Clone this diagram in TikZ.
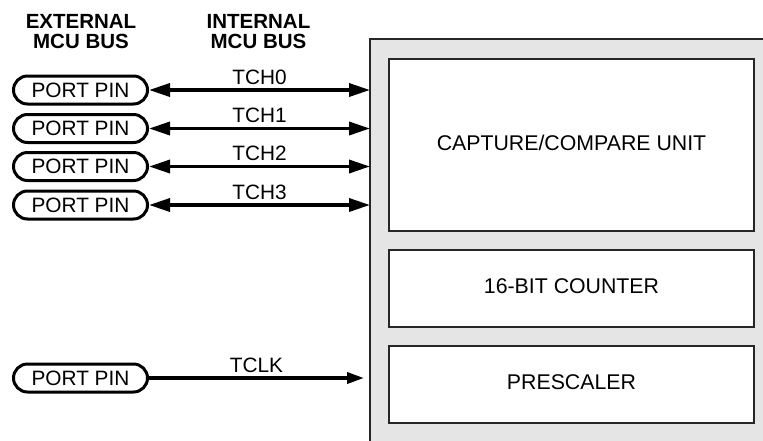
\documentclass[tikz,border=0pt]{standalone}
\usepackage{fontspec}
\setmainfont{Liberation Sans}
\usetikzlibrary{arrows.meta}
\begin{document}
\begin{tikzpicture}[x=1pt,y=-1pt,
  pinbox/.style={draw, line width=3pt, rounded corners=14pt, minimum width=134pt,
    minimum height=28pt, inner sep=0pt, fill=white, font=\fontsize{20.8}{20.8}\selectfont},
  unitbox/.style={draw=black!85, line width=1.1pt, fill=white, minimum width=365pt,
    inner sep=0pt, text height=15pt, text depth=5pt, font=\fontsize{21.3}{21.3}\selectfont},
  hdr/.style={align=center, inner sep=0pt, font=\fontsize{20.5}{19.5}\selectfont\bfseries},
  bus/.style={line width=3.5pt, {Triangle[length=21pt,width=13pt]}-{Triangle[length=21pt,width=13pt]}},
  inbus/.style={line width=3.5pt, -{Triangle[length=17pt,width=11pt]}},
  lbl/.style={midway, anchor=base, yshift=6pt, inner sep=0pt, font=\fontsize{20.8}{20.8}\selectfont}]
\useasboundingbox (0,0) rectangle (763,440);

% timer block
\node[draw=black!85, line width=1.1pt, fill=black!10, anchor=north west,
  minimum width=420pt, minimum height=430pt, inner sep=0pt, outer sep=0pt] (timer) at (370,39) {};
\node[unitbox, minimum height=172pt] (cap) at (571.5,145) {CAPTURE/COMPARE UNIT};
\node[unitbox, minimum height=77pt] (cnt) at (571.5,288.5) {16-BIT COUNTER};
\node[unitbox, minimum height=77pt] (pre) at (571.5,384.5) {PRESCALER};

% headers
\node[hdr] (ext) at (81,31.4) {EXTERNAL\\MCU BUS};
\node[hdr] (int) at (258.5,31.4) {INTERNAL\\MCU BUS};

% port pins
\node[pinbox] (p0) at (80.5,90) {PORT PIN};
\node[pinbox] (p1) at (80.5,128.5) {PORT PIN};
\node[pinbox] (p2) at (80.5,166.5) {PORT PIN};
\node[pinbox] (p3) at (80.5,205) {PORT PIN};
\node[pinbox] (p4) at (80.5,378) {PORT PIN};

% connectors
\draw[bus] (p0.east) -- (p0.east -| timer.west) node[lbl] {TCH0};
\draw[bus] (p1.east) -- (p1.east -| timer.west) node[lbl] {TCH1};
\draw[bus] (p2.east) -- (p2.east -| timer.west) node[lbl] {TCH2};
\draw[bus] (p3.east) -- (p3.east -| timer.west) node[lbl] {TCH3};
\coordinate (tclkend) at ([xshift=-6pt]p4.east -| timer.west);
\draw[inbus] (p4.east) -- (tclkend) node[lbl] {TCLK};
\end{tikzpicture}
\end{document}
